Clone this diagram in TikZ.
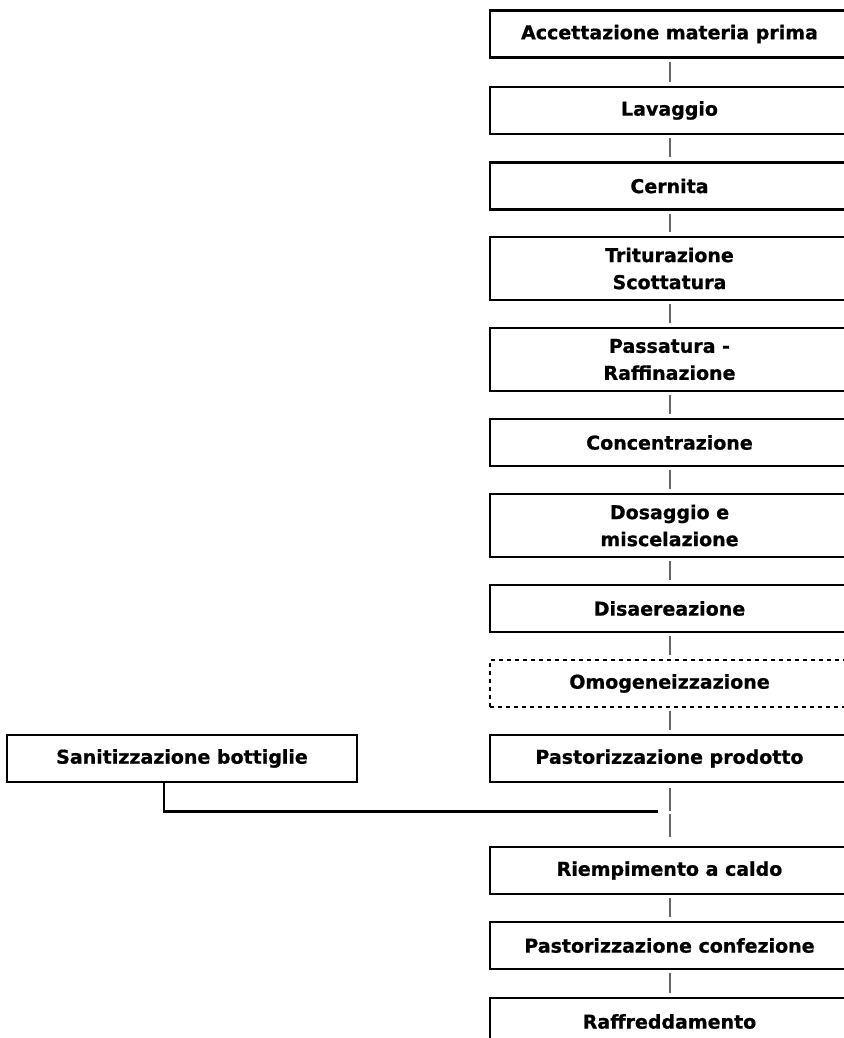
\documentclass[tikz,border=0pt]{standalone}
\usepackage{fontspec}
\setmainfont{DejaVu Sans}[BoldFeatures={FakeBold=0.8}]
\begin{document}
\begin{tikzpicture}[x=1pt,y=-1pt,
  stage/.style={draw=black, line width=2.6pt, minimum width=359pt, minimum height=47pt,
    inner sep=0pt, align=center, font=\fontsize{19}{27}\selectfont\bfseries},
  tall/.style={stage, minimum height=63pt},
  optional/.style={stage, dashed, dash pattern=on 4pt off 4pt},
  side/.style={stage, minimum width=350pt},
  link/.style={draw=black!60, line width=2pt, shorten <=3pt, shorten >=4pt},
  feed/.style={draw=black, line width=2.8pt}]
\useasboundingbox (0,0) rectangle (843,1038);

% main processing line
\node[stage]    (acc) at (669.5,34)    {Accettazione materia prima};
\node[stage]    (lav) at (669.5,110.5) {Lavaggio};
\node[stage]    (cer) at (669.5,186)   {Cernita};
\node[tall]     (tri) at (669.5,268.5) {Triturazione\\Scottatura};
\node[tall]     (pas) at (669.5,359.5) {Passatura -\\Raffinazione};
\node[stage]    (con) at (669.5,442.5) {Concentrazione};
\node[tall]     (dos) at (669.5,525.5) {Dosaggio e\\miscelazione};
\node[stage]    (dis) at (669.5,608.5) {Disaereazione};
\node[optional] (omo) at (669.5,683.5) {Omogeneizzazione};
\node[stage]    (pap) at (669.5,758.5) {Pastorizzazione prodotto};
\node[stage]    (rie) at (669.5,870.5) {Riempimento a caldo};
\node[stage]    (pac) at (669.5,945.5) {Pastorizzazione confezione};
\node[stage]    (raf) at (669.5,1021.5) {Raffreddamento};

% bottle branch
\node[side] (san) at (182,758.5) {Sanitizzazione bottiglie};
\coordinate (j) at (669.5,811.5);

\draw[link] (acc) -- (lav);
\draw[link] (lav) -- (cer);
\draw[link] (cer) -- (tri);
\draw[link] (tri) -- (pas);
\draw[link] (pas) -- (con);
\draw[link] (con) -- (dos);
\draw[link] (dos) -- (dis);
\draw[link] (dis) -- (omo);
\draw[link] (omo) -- (pap);
\draw[link, shorten <=5pt, shorten >=0.5pt] (pap) -- (j);
\draw[link, shorten <=2.5pt, shorten >=9pt] (j) -- (rie);
\draw[link] (rie) -- (pac);
\draw[link] (pac) -- (raf);

\draw[feed] ([xshift=-18pt]san.south) |- ([xshift=-11.5pt]j);
\end{tikzpicture}
\end{document}
